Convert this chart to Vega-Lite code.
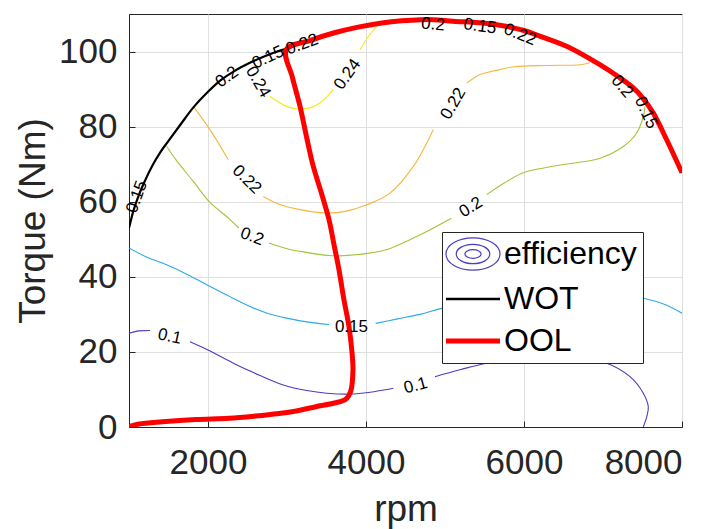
{
  "$schema": "https://vega.github.io/schema/vega-lite/v6.json",
  "width": 553,
  "height": 413,
  "autosize": "none",
  "padding": {"left": 129, "top": 14, "right": 39, "bottom": 102},
  "background": "white",
  "config": {
    "view": {"stroke": "#262626", "strokeWidth": 1},
    "font": "Liberation Sans",
    "axis": {
      "labelFont": "Liberation Sans", "labelFontSize": 35, "labelColor": "#262626",
      "titleFont": "Liberation Sans", "titleFontSize": 37, "titleFontWeight": "normal", "titleColor": "#262626",
      "domainColor": "#262626", "tickColor": "#262626", "gridColor": "#dfdfdf", "gridOpacity": 1,
      "tickSize": -6
    },
    "legend": {
      "orient": "none", "legendX": 313, "legendY": 218,
      "fillColor": "white", "strokeColor": "#262626", "padding": 6,
      "labelFont": "Liberation Sans", "labelFontSize": 32, "labelColor": "black",
      "symbolType": "stroke", "symbolSize": 2916, "symbolStrokeWidth": 2.5,
      "symbolOffset": 9, "labelOffset": 15,
      "rowPadding": 10, "zindex": 2
    }
  },
  "datasets": {
    "contours": [
      {"level": "0.1", "seg": "a1", "rpm": 1000, "torque": 25},
      {"level": "0.1", "seg": "a1", "rpm": 1130, "torque": 25.6},
      {"level": "0.1", "seg": "a1", "rpm": 1266, "torque": 25.7},
      {"level": "0.1", "seg": "b1", "rpm": 1772, "torque": 22.7},
      {"level": "0.1", "seg": "b1", "rpm": 2000, "torque": 20.5},
      {"level": "0.1", "seg": "b1", "rpm": 2320, "torque": 17},
      {"level": "0.1", "seg": "b1", "rpm": 2650, "torque": 13.8},
      {"level": "0.1", "seg": "b1", "rpm": 2953, "torque": 11.2},
      {"level": "0.1", "seg": "b1", "rpm": 3250, "torque": 9.7},
      {"level": "0.1", "seg": "b1", "rpm": 3502, "torque": 9},
      {"level": "0.1", "seg": "b1", "rpm": 3840, "torque": 8.8},
      {"level": "0.1", "seg": "b1", "rpm": 4100, "torque": 9.4},
      {"level": "0.1", "seg": "b1", "rpm": 4346, "torque": 10.3},
      {"level": "0.1", "seg": "c1", "rpm": 4873, "torque": 13.4},
      {"level": "0.1", "seg": "c1", "rpm": 5200, "torque": 15.3},
      {"level": "0.1", "seg": "c1", "rpm": 5528, "torque": 17},
      {"level": "0.1", "seg": "c1", "rpm": 6000, "torque": 18.5},
      {"level": "0.1", "seg": "c1", "rpm": 6600, "torque": 18.5},
      {"level": "0.1", "seg": "c1", "rpm": 7047, "torque": 17},
      {"level": "0.1", "seg": "c1", "rpm": 7342, "torque": 13.4},
      {"level": "0.1", "seg": "c1", "rpm": 7510, "torque": 9},
      {"level": "0.1", "seg": "c1", "rpm": 7573, "torque": 5.4},
      {"level": "0.1", "seg": "c1", "rpm": 7553, "torque": 2.7},
      {"level": "0.1", "seg": "c1", "rpm": 7510, "torque": 0},
      {"level": "0.15", "seg": "a2", "rpm": 1000, "torque": 47.7},
      {"level": "0.15", "seg": "a2", "rpm": 1200, "torque": 45.5},
      {"level": "0.15", "seg": "a2", "rpm": 1477, "torque": 43.2},
      {"level": "0.15", "seg": "a2", "rpm": 1750, "torque": 40.5},
      {"level": "0.15", "seg": "a2", "rpm": 1983, "torque": 37.9},
      {"level": "0.15", "seg": "a2", "rpm": 2250, "torque": 35},
      {"level": "0.15", "seg": "a2", "rpm": 2532, "torque": 32.1},
      {"level": "0.15", "seg": "a2", "rpm": 2750, "torque": 30.3},
      {"level": "0.15", "seg": "a2", "rpm": 2996, "torque": 29},
      {"level": "0.15", "seg": "a2", "rpm": 3250, "torque": 28},
      {"level": "0.15", "seg": "a2", "rpm": 3532, "torque": 27.3},
      {"level": "0.15", "seg": "b2", "rpm": 4123, "torque": 27.6},
      {"level": "0.15", "seg": "b2", "rpm": 4400, "torque": 28.8},
      {"level": "0.15", "seg": "b2", "rpm": 4684, "torque": 30},
      {"level": "0.15", "seg": "b2", "rpm": 4958, "torque": 31.6},
      {"level": "0.15", "seg": "b2", "rpm": 5500, "torque": 34},
      {"level": "0.15", "seg": "b2", "rpm": 6000, "torque": 35.5},
      {"level": "0.15", "seg": "b2", "rpm": 6500, "torque": 36},
      {"level": "0.15", "seg": "b2", "rpm": 7000, "torque": 35.5},
      {"level": "0.15", "seg": "b2", "rpm": 7510, "torque": 34.3},
      {"level": "0.15", "seg": "b2", "rpm": 7800, "torque": 32.5},
      {"level": "0.15", "seg": "b2", "rpm": 8000, "torque": 30.3},
      {"level": "0.2", "seg": "a3", "rpm": 1477, "torque": 74.7},
      {"level": "0.2", "seg": "a3", "rpm": 1600, "torque": 71},
      {"level": "0.2", "seg": "a3", "rpm": 1814, "torque": 65.4},
      {"level": "0.2", "seg": "a3", "rpm": 2025, "torque": 59.8},
      {"level": "0.2", "seg": "a3", "rpm": 2266, "torque": 55.5},
      {"level": "0.2", "seg": "a3", "rpm": 2390, "torque": 53},
      {"level": "0.2", "seg": "b3", "rpm": 2772, "torque": 49},
      {"level": "0.2", "seg": "b3", "rpm": 3000, "torque": 47.5},
      {"level": "0.2", "seg": "b3", "rpm": 3193, "torque": 46.7},
      {"level": "0.2", "seg": "b3", "rpm": 3573, "torque": 45.6},
      {"level": "0.2", "seg": "b3", "rpm": 4038, "torque": 46.3},
      {"level": "0.2", "seg": "b3", "rpm": 4300, "torque": 47.5},
      {"level": "0.2", "seg": "b3", "rpm": 4557, "torque": 49.9},
      {"level": "0.2", "seg": "b3", "rpm": 4800, "torque": 52.4},
      {"level": "0.2", "seg": "b3", "rpm": 5080, "torque": 55.6},
      {"level": "0.2", "seg": "c3", "rpm": 5528, "torque": 61.9},
      {"level": "0.2", "seg": "c3", "rpm": 5750, "torque": 65},
      {"level": "0.2", "seg": "c3", "rpm": 5991, "torque": 67.7},
      {"level": "0.2", "seg": "c3", "rpm": 6250, "torque": 69},
      {"level": "0.2", "seg": "c3", "rpm": 6498, "torque": 69.9},
      {"level": "0.2", "seg": "c3", "rpm": 6962, "torque": 71.6},
      {"level": "0.2", "seg": "c3", "rpm": 7257, "torque": 74.7},
      {"level": "0.2", "seg": "c3", "rpm": 7426, "torque": 78.3},
      {"level": "0.2", "seg": "c3", "rpm": 7510, "torque": 82.7},
      {"level": "0.2", "seg": "c3", "rpm": 7532, "torque": 85.4},
      {"level": "0.22", "seg": "a4", "rpm": 1814, "torque": 85.4},
      {"level": "0.22", "seg": "a4", "rpm": 2025, "torque": 79.2},
      {"level": "0.22", "seg": "a4", "rpm": 2257, "torque": 71.2},
      {"level": "0.22", "seg": "b4", "rpm": 2700, "torque": 61.4},
      {"level": "0.22", "seg": "b4", "rpm": 2900, "torque": 59.3},
      {"level": "0.22", "seg": "b4", "rpm": 3165, "torque": 57.9},
      {"level": "0.22", "seg": "b4", "rpm": 3500, "torque": 57},
      {"level": "0.22", "seg": "b4", "rpm": 3750, "torque": 57.5},
      {"level": "0.22", "seg": "b4", "rpm": 4009, "torque": 59.2},
      {"level": "0.22", "seg": "b4", "rpm": 4304, "torque": 62.3},
      {"level": "0.22", "seg": "b4", "rpm": 4599, "torque": 69.4},
      {"level": "0.22", "seg": "b4", "rpm": 4852, "torque": 79.2},
      {"level": "0.22", "seg": "c4", "rpm": 5274, "torque": 91.6},
      {"level": "0.22", "seg": "c4", "rpm": 5443, "torque": 93.9},
      {"level": "0.22", "seg": "c4", "rpm": 5612, "torque": 94.8},
      {"level": "0.22", "seg": "c4", "rpm": 5865, "torque": 95.9},
      {"level": "0.22", "seg": "c4", "rpm": 6287, "torque": 96.3},
      {"level": "0.22", "seg": "c4", "rpm": 6709, "torque": 96.5},
      {"level": "0.22", "seg": "c4", "rpm": 6835, "torque": 97},
      {"level": "0.24", "seg": "a5", "rpm": 2785, "torque": 88.1},
      {"level": "0.24", "seg": "a5", "rpm": 2996, "torque": 85.4},
      {"level": "0.24", "seg": "a5", "rpm": 3206, "torque": 84.7},
      {"level": "0.24", "seg": "a5", "rpm": 3418, "torque": 86.3},
      {"level": "0.24", "seg": "a5", "rpm": 3586, "torque": 89.9},
      {"level": "0.24", "seg": "b5", "rpm": 3924, "torque": 100.5},
      {"level": "0.24", "seg": "b5", "rpm": 4030, "torque": 104},
      {"level": "0.24", "seg": "b5", "rpm": 4135, "torque": 106.7}
    ],
    "wot": [
      {"series": "WOT", "rpm": 1000, "torque": 53},
      {"series": "WOT", "rpm": 1055, "torque": 57.5},
      {"series": "WOT", "rpm": 1120, "torque": 61.5},
      {"series": "WOT", "rpm": 1200, "torque": 65.5},
      {"series": "WOT", "rpm": 1300, "torque": 69.8},
      {"series": "WOT", "rpm": 1400, "torque": 73.3},
      {"series": "WOT", "rpm": 1500, "torque": 76.2},
      {"series": "WOT", "rpm": 1650, "torque": 80.5},
      {"series": "WOT", "rpm": 1810, "torque": 85},
      {"series": "WOT", "rpm": 2000, "torque": 89.3},
      {"series": "WOT", "rpm": 2150, "torque": 92.2},
      {"series": "WOT", "rpm": 2350, "torque": 95},
      {"series": "WOT", "rpm": 2530, "torque": 97},
      {"series": "WOT", "rpm": 2750, "torque": 99},
      {"series": "WOT", "rpm": 2975, "torque": 100.7},
      {"series": "WOT", "rpm": 3300, "torque": 103},
      {"series": "WOT", "rpm": 3600, "torque": 105},
      {"series": "WOT", "rpm": 3900, "torque": 106.5},
      {"series": "WOT", "rpm": 4200, "torque": 107.6},
      {"series": "WOT", "rpm": 4450, "torque": 108.2},
      {"series": "WOT", "rpm": 4700, "torque": 108.5},
      {"series": "WOT", "rpm": 4850, "torque": 108.5},
      {"series": "WOT", "rpm": 5100, "torque": 108.1},
      {"series": "WOT", "rpm": 5480, "torque": 107.6},
      {"series": "WOT", "rpm": 5750, "torque": 106.8},
      {"series": "WOT", "rpm": 6000, "torque": 105.6},
      {"series": "WOT", "rpm": 6200, "torque": 104.1},
      {"series": "WOT", "rpm": 6540, "torque": 101.4},
      {"series": "WOT", "rpm": 6960, "torque": 96.5},
      {"series": "WOT", "rpm": 7200, "torque": 93.2},
      {"series": "WOT", "rpm": 7384, "torque": 90.3},
      {"series": "WOT", "rpm": 7500, "torque": 87.7},
      {"series": "WOT", "rpm": 7637, "torque": 83.6},
      {"series": "WOT", "rpm": 7806, "torque": 76.5},
      {"series": "WOT", "rpm": 8000, "torque": 67.7}
    ],
    "ool": [
      {"series": "OOL", "rpm": 1000, "torque": 0.1},
      {"series": "OOL", "rpm": 1127, "torque": 0.8},
      {"series": "OOL", "rpm": 1422, "torque": 1.4},
      {"series": "OOL", "rpm": 1844, "torque": 2},
      {"series": "OOL", "rpm": 2266, "torque": 2.3},
      {"series": "OOL", "rpm": 2600, "torque": 2.9},
      {"series": "OOL", "rpm": 2899, "torque": 3.6},
      {"series": "OOL", "rpm": 3150, "torque": 4.4},
      {"series": "OOL", "rpm": 3363, "torque": 5.4},
      {"series": "OOL", "rpm": 3600, "torque": 6.4},
      {"series": "OOL", "rpm": 3743, "torque": 7.4},
      {"series": "OOL", "rpm": 3806, "torque": 9.5},
      {"series": "OOL", "rpm": 3835, "torque": 15.2},
      {"series": "OOL", "rpm": 3820, "torque": 20.5},
      {"series": "OOL", "rpm": 3785, "torque": 26.7},
      {"series": "OOL", "rpm": 3720, "torque": 34},
      {"series": "OOL", "rpm": 3658, "torque": 41.9},
      {"series": "OOL", "rpm": 3600, "torque": 48},
      {"series": "OOL", "rpm": 3532, "torque": 55.2},
      {"series": "OOL", "rpm": 3440, "torque": 62},
      {"series": "OOL", "rpm": 3333, "torque": 69.4},
      {"series": "OOL", "rpm": 3250, "torque": 77},
      {"series": "OOL", "rpm": 3165, "torque": 85.4},
      {"series": "OOL", "rpm": 3070, "torque": 93},
      {"series": "OOL", "rpm": 2990, "torque": 100.5},
      {"series": "OOL", "rpm": 3300, "torque": 103},
      {"series": "OOL", "rpm": 3600, "torque": 105},
      {"series": "OOL", "rpm": 3900, "torque": 106.5},
      {"series": "OOL", "rpm": 4200, "torque": 107.6},
      {"series": "OOL", "rpm": 4450, "torque": 108.2},
      {"series": "OOL", "rpm": 4700, "torque": 108.5},
      {"series": "OOL", "rpm": 4850, "torque": 108.5},
      {"series": "OOL", "rpm": 5100, "torque": 108.1},
      {"series": "OOL", "rpm": 5480, "torque": 107.6},
      {"series": "OOL", "rpm": 5750, "torque": 106.8},
      {"series": "OOL", "rpm": 6000, "torque": 105.6},
      {"series": "OOL", "rpm": 6200, "torque": 104.1},
      {"series": "OOL", "rpm": 6540, "torque": 101.4},
      {"series": "OOL", "rpm": 6960, "torque": 96.5},
      {"series": "OOL", "rpm": 7200, "torque": 93.2},
      {"series": "OOL", "rpm": 7384, "torque": 90.3},
      {"series": "OOL", "rpm": 7500, "torque": 87.7},
      {"series": "OOL", "rpm": 7637, "torque": 83.6},
      {"series": "OOL", "rpm": 7806, "torque": 76.5},
      {"series": "OOL", "rpm": 8000, "torque": 67.7}
    ]
  },
  "encoding": {
    "x": {"field": "rpm", "type": "quantitative", "scale": {"domain": [1000, 8000], "nice": false, "zero": false},
      "axis": {"values": [2000, 4000, 6000, 8000], "format": "d", "title": "rpm", "labelPadding": 24, "titlePadding": 11, "grid": true}},
    "y": {"field": "torque", "type": "quantitative", "scale": {"domain": [0, 110], "nice": false},
      "axis": {"values": [0, 20, 40, 60, 80, 100], "title": "Torque (Nm)", "labelPadding": 18, "titlePadding": 6, "grid": true}}
  },
  "layer": [
    {
      "data": {"name": "contours"},
      "mark": {"type": "line", "strokeWidth": 1.1, "interpolate": "catmull-rom", "clip": true},
      "encoding": {
        "color": {"field": "level", "type": "nominal", "legend": null,
          "scale": {"domain": ["0.1", "0.15", "0.2", "0.22", "0.24"], "range": ["#4b3dc0", "#2ea8e6", "#a4c43a", "#f7b63c", "#f2ec1c"]}},
        "detail": {"field": "seg"},
        "order": {"value": null}
      }
    },
    {
      "data": {"name": "wot"},
      "mark": {"type": "line", "strokeWidth": 2.2, "interpolate": "monotone", "clip": true},
      "encoding": {
        "stroke": {"field": "series", "type": "nominal", "title": null,
          "scale": {"domain": ["efficiency", "WOT", "OOL"], "range": ["#4b3dc0", "black", "red"]},
          "legend": {
            "title": null,
            "encode": {"symbols": {"update": {
              "shape": {"signal": "datum.value === 'efficiency' ? 'M-1,0A1,0.6,0,1,1,1,0A1,0.6,0,1,1,-1,0ZM-0.62,0A0.62,0.36,0,1,1,0.62,0A0.62,0.36,0,1,1,-0.62,0ZM-0.3,0A0.3,0.16,0,1,1,0.3,0A0.3,0.16,0,1,1,-0.3,0Z' : 'stroke'"},
              "strokeWidth": {"signal": "datum.value === 'OOL' ? 5 : datum.value === 'WOT' ? 2.5 : 1.2"},
              "fill": {"value": "transparent"}
            }}}
          }},
        "order": {"value": null}
      }
    },
    {
      "data": {"name": "ool"},
      "mark": {"type": "line", "strokeWidth": 5, "interpolate": "catmull-rom", "clip": true},
      "encoding": {
        "stroke": {"field": "series", "type": "nominal"},
        "order": {"value": null}
      }
    },
    {"data": {"values": [{"rpm": 1515, "torque": 24.1, "label": "0.1"}]}, "mark": {"type": "text", "angle": 12, "fontSize": 17, "color": "black"}, "encoding": {"text": {"field": "label"}}},
    {"data": {"values": [{"rpm": 4629, "torque": 11, "label": "0.1"}]}, "mark": {"type": "text", "angle": -15, "fontSize": 17, "color": "black"}, "encoding": {"text": {"field": "label"}}},
    {"data": {"values": [{"rpm": 3816, "torque": 26.7, "label": "0.15"}]}, "mark": {"type": "text", "angle": 0, "fontSize": 17, "color": "black"}, "encoding": {"text": {"field": "label"}}},
    {"data": {"values": [{"rpm": 2557, "torque": 50.7, "label": "0.2"}]}, "mark": {"type": "text", "angle": 20, "fontSize": 17, "color": "black"}, "encoding": {"text": {"field": "label"}}},
    {"data": {"values": [{"rpm": 5327, "torque": 58.5, "label": "0.2"}]}, "mark": {"type": "text", "angle": -32, "fontSize": 17, "color": "black"}, "encoding": {"text": {"field": "label"}}},
    {"data": {"values": [{"rpm": 2490, "torque": 65.9, "label": "0.22"}]}, "mark": {"type": "text", "angle": 45, "fontSize": 17, "color": "black"}, "encoding": {"text": {"field": "label"}}},
    {"data": {"values": [{"rpm": 5105, "torque": 86.1, "label": "0.22"}]}, "mark": {"type": "text", "angle": -60, "fontSize": 17, "color": "black"}, "encoding": {"text": {"field": "label"}}},
    {"data": {"values": [{"rpm": 3766, "torque": 93.9, "label": "0.24"}]}, "mark": {"type": "text", "angle": -55, "fontSize": 17, "color": "black"}, "encoding": {"text": {"field": "label"}}},
    {"data": {"values": [{"rpm": 2633, "torque": 91.9, "label": "0.24"}]}, "mark": {"type": "text", "angle": 60, "fontSize": 17, "color": "black"}, "encoding": {"text": {"field": "label"}}},
    {"data": {"values": [{"rpm": 2240, "torque": 93.2, "label": "0.2"}]}, "mark": {"type": "text", "angle": -35, "fontSize": 17, "color": "black"}, "encoding": {"text": {"field": "label"}}},
    {"data": {"values": [{"rpm": 2760, "torque": 98.4, "label": "0.15"}]}, "mark": {"type": "text", "angle": -25, "fontSize": 17, "color": "black"}, "encoding": {"text": {"field": "label"}}},
    {"data": {"values": [{"rpm": 3190, "torque": 101.9, "label": "0.22"}]}, "mark": {"type": "text", "angle": -20, "fontSize": 17, "color": "black"}, "encoding": {"text": {"field": "label"}}},
    {"data": {"values": [{"rpm": 4848, "torque": 107.2, "label": "0.2"}]}, "mark": {"type": "text", "angle": 5, "fontSize": 17, "color": "black"}, "encoding": {"text": {"field": "label"}}},
    {"data": {"values": [{"rpm": 5443, "torque": 106.7, "label": "0.15"}]}, "mark": {"type": "text", "angle": 8, "fontSize": 17, "color": "black"}, "encoding": {"text": {"field": "label"}}},
    {"data": {"values": [{"rpm": 5949, "torque": 104.5, "label": "0.22"}]}, "mark": {"type": "text", "angle": 22, "fontSize": 17, "color": "black"}, "encoding": {"text": {"field": "label"}}},
    {"data": {"values": [{"rpm": 7241, "torque": 90.7, "label": "0.2"}]}, "mark": {"type": "text", "angle": 50, "fontSize": 17, "color": "black"}, "encoding": {"text": {"field": "label"}}},
    {"data": {"values": [{"rpm": 7544, "torque": 83.7, "label": "0.15"}]}, "mark": {"type": "text", "angle": 65, "fontSize": 17, "color": "black"}, "encoding": {"text": {"field": "label"}}},
    {"data": {"values": [{"rpm": 1100, "torque": 61.3, "label": "0.15"}]}, "mark": {"type": "text", "angle": -70, "fontSize": 17, "color": "black"}, "encoding": {"text": {"field": "label"}}}
  ]
}
